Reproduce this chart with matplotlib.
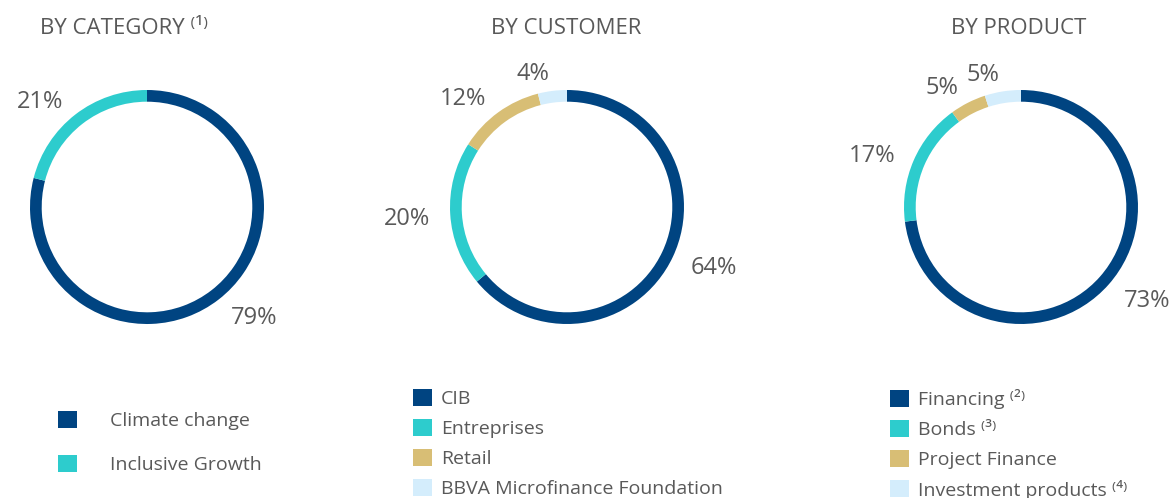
import matplotlib
matplotlib.use('Agg')
import matplotlib.pyplot as plt
from matplotlib.patches import Patch

plt.rcParams['font.family'] = ['Open Sans', 'DejaVu Sans']

# datos
category_labels = ['Climate change', 'Inclusive Growth']
category_values = [79, 21]
customer_labels = ['CIB', 'Entreprises', 'Retail', 'BBVA Microfinance Foundation']
customer_values = [64, 20, 12, 4]
product_labels = ['Financing \u207d\u00b2\u207e', 'Bonds \u207d\u00b3\u207e', 'Project Finance',
                  'Investment products \u207d\u2074\u207e']
product_values = [73, 17, 5, 5]

colors = ['#004481', '#2DCCCD', '#D8BE75', '#D4EDFC']
gray = '#595959'

W, H = 1173, 498
fig = plt.figure(figsize=(W / 100, H / 100), dpi=100)

R = 117  # radio en pixeles


def donut(cx, cy, values):
    ax = fig.add_axes([(cx - R) / W, (H - cy - R) / H, 2 * R / W, 2 * R / H])
    wedges, texts = ax.pie(values, labels=[f'{v}%' for v in values],
                           colors=colors[:len(values)], startangle=90,
                           counterclock=False, radius=1,
                           wedgeprops=dict(width=0.1, linewidth=0), labeldistance=1.17,
                           textprops=dict(color=gray, fontsize=17))
    for t in texts:
        t.set_verticalalignment('center_baseline')
    ax.set_xlim(-1, 1)
    ax.set_ylim(-1, 1)
    ax.set_aspect('equal')
    ax.axis('off')
    return ax


donut(147, 207, category_values)
donut(567, 207, customer_values)
donut(1021, 207, product_values)

# titulos
fig.text(40 / W, 1 - 34 / H, 'BY CATEGORY \u207d\u00b9\u207e', ha='left', va='baseline',
         fontsize=16, color=gray)
fig.text(566 / W, 1 - 34 / H, 'BY CUSTOMER', ha='center', va='baseline', fontsize=16, color=gray)
fig.text(1019 / W, 1 - 34 / H, 'BY PRODUCT', ha='center', va='baseline', fontsize=16, color=gray)


def legend(labels, x, y, spacing, pad):
    handles = [Patch(facecolor=c, edgecolor='none') for c in colors[:len(labels)]]
    fig.legend(handles, labels, loc='upper left', bbox_to_anchor=(x / W, 1 - y / H),
               frameon=False, fontsize=14, labelcolor=gray, handlelength=0.98,
               handleheight=0.98, handletextpad=pad, labelspacing=spacing,
               borderpad=0, borderaxespad=0)


legend(category_labels, 58, 411, 1.27, 1.7)
legend(customer_labels, 413, 389, 0.55, 0.46)
legend(product_labels, 890, 389, 0.55, 0.46)

fig.savefig('out.png', dpi=100)
